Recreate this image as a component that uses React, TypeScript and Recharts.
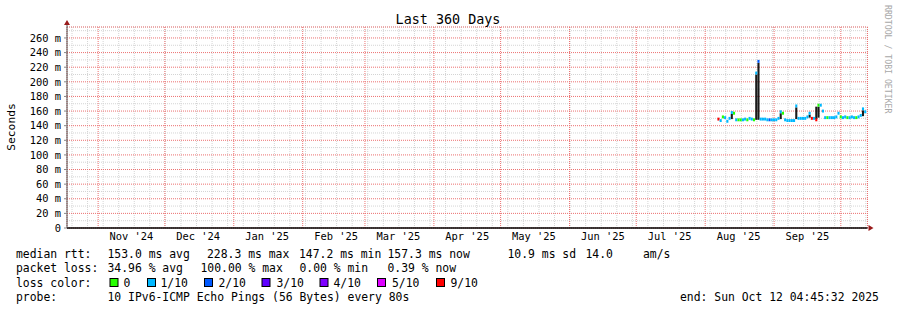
import React from "react";
import {
  ComposedChart,
  Bar,
  Cell,
  XAxis,
  YAxis,
  CartesianGrid,
  ReferenceDot,
} from "recharts";

// ---- data (x = days since 18 Oct 2024, one sample per day) ----
const DAYS = [
  293, 294, 295, 296, 297, 298, 299, 300, 301, 302, 303, 304, 305, 306, 307, 308, 309, 310,
  311, 312, 313, 314, 315, 316, 317, 318, 319, 320, 321, 322, 323, 324, 325, 326, 327, 328,
  329, 330, 331, 332, 333, 334, 335, 336, 337, 338, 339, 340, 341, 342, 343, 344, 345, 346,
  347, 348, 349, 350, 351, 352, 353, 354, 355, 356, 357, 358, 359,
];
const MEDIAN_MS = [
  149, 147, 152, 151, 146, 150, 158, 157, 148, 148, 148, 148, 149, 148, 150, 149, 148, 212,
  228, 149, 149, 149, 148, 148, 148, 148, 148, 150, 159, 157, 148, 147, 147, 147, 147, 167,
  150, 150, 150, 150, 152, 157, 150, 150, 148, 168, 168, 160, 151, 151, 151, 151, 151, 152,
  157, 152, 151, 152, 151, 151, 152, 151, 151, 152, 154, 163, 159,
];
const LOSS = [
  "9/10", "1/10", "0", "1/10", "1/10", "1/10", "1/10", "0", "1/10", "0", "0", "1/10", "1/10", "0", "1/10", "1/10", "0", "1/10",
  "2/10", "1/10", "1/10", "1/10", "1/10", "2/10", "1/10", "1/10", "1/10", "1/10", "1/10", "0", "1/10", "1/10", "1/10", "1/10", "1/10", "1/10",
  "1/10", "1/10", "1/10", "1/10", "1/10", "1/10", "9/10", "1/10", "9/10", "0", "1/10", "1/10", "1/10", "0", "1/10", "1/10", "1/10", "1/10",
  "1/10", "0", "1/10", "1/10", "0", "1/10", "1/10", "1/10", "0", "1/10", "1/10", "1/10", "1/10",
];
const SMOKE_DAYS = [299, 310, 311, 321, 328, 334, 337, 338, 358];
const SMOKE_LO = [149, 148, 148, 149, 149, 151, 149, 151, 153];
const SMOKE_HI = [156, 210, 226, 157, 165, 155, 166, 166, 161];

const LOSS_KEYS = ["0", "1/10", "2/10", "3/10", "4/10", "5/10", "9/10"];
const LOSS_COLORS = ["#26ff00", "#00b8ff", "#0059ff", "#5e00ff", "#7e00ff", "#dd00ff", "#ff0000"];

const MONTH_START_DAYS = [14, 44, 75, 106, 134, 165, 195, 226, 256, 287, 318, 348];
const MONTH_LABELS = ["Nov '24", "Dec '24", "Jan '25", "Feb '25", "Mar '25", "Apr '25", "May '25", "Jun '25", "Jul '25", "Aug '25", "Sep '25"];
const LABEL_DAYS = MONTH_LABELS.map((_, i) => MONTH_START_DAYS[i] + 15);
const Y_TICKS = [0, 20, 40, 60, 80, 100, 120, 140, 160, 180, 200, 220, 240, 260];
const Y_MINOR = [10, 30, 50, 70, 90, 110, 130, 150, 170, 190, 210, 230, 250, 270];
const WEEK_DAYS: number[] = [];
for (let d = 2.25; d < 360; d += 7) WEEK_DAYS.push(d);

const MEDIAN_ROWS = [
  { label: "median rtt:", x: 16 },
  { label: "153.0 ms avg", x: 107.5 },
  { label: "228.3 ms max", x: 207 },
  { label: "147.2 ms min", x: 299 },
  { label: "157.3 ms now", x: 387.5 },
  { label: "10.9 ms sd", x: 507.5 },
  { label: "14.0", x: 585.5 },
  { label: "am/s", x: 643 },
];
const LOSS_ROWS = [
  { label: "packet loss:", x: 16 },
  { label: "34.96 % avg", x: 107.5 },
  { label: "100.00 % max", x: 200.5 },
  { label: "0.00 % min", x: 299.5 },
  { label: "0.39 % now", x: 387.5 },
];
const SWATCH_X = [109.5, 147, 204, 261.5, 319.5, 377, 436];
const SWATCH_TEXT_X = [123.5, 160.5, 218.5, 276.5, 333.5, 392, 450.5];

// ---- build rows ----
const rows = DAYS.map((day, i) => {
  const si = SMOKE_DAYS.indexOf(day);
  return {
    day,
    band: [MEDIAN_MS[i] - 2, MEDIAN_MS[i] + 2],
    color: LOSS_COLORS[LOSS_KEYS.indexOf(LOSS[i])],
    smoke: si >= 0 ? [SMOKE_LO[si], SMOKE_HI[si]] : null,
  };
});

const MONO = "'DejaVu Sans Mono', monospace";
const GREY_GRID = "#d4d4d4";
const RED_GRID = "#ec7070";
const ARROW = "#9a1b1b";
const LEG = 11.4;
const BAR_W = 2.1;
const zeroKey = () => 0;

const UpArrow = (p: any) => (
  <g>
    <line x1={p.cx} y1={p.cy} x2={p.cx} y2={p.cy - 3} stroke="#555" strokeWidth={1} />
    <polygon points={`${p.cx - 3},${p.cy - 2} ${p.cx + 3},${p.cy - 2} ${p.cx},${p.cy - 7}`} fill={ARROW} />
  </g>
);
const RightArrow = (p: any) => (
  <polygon points={`${p.cx + 1},${p.cy - 3} ${p.cx + 1},${p.cy + 3} ${p.cx + 6},${p.cy}`} fill={ARROW} />
);

export default function App() {
  return (
    <div style={{ position: "absolute", left: 0, top: 0, width: 897, height: 310, background: "#fff" }}>
      <ComposedChart
        width={897}
        height={310}
        data={rows}
        barGap={-BAR_W}
        margin={{ top: 27, right: 29.5, bottom: 52, left: 7 }}
      >
        <XAxis xAxisId="week" type="number" dataKey="day" domain={[0, 360]} ticks={WEEK_DAYS} interval={0} hide />
        <XAxis xAxisId="month" type="number" dataKey="day" domain={[0, 360]} ticks={MONTH_START_DAYS} interval={0} hide />
        <YAxis yAxisId="minor" type="number" dataKey={zeroKey} domain={[0, 275]} allowDataOverflow ticks={Y_MINOR} interval={0} hide />
        <CartesianGrid xAxisId="week" yAxisId="minor" stroke={GREY_GRID} strokeDasharray="1 1" />
        <CartesianGrid xAxisId="month" stroke={RED_GRID} strokeDasharray="1 1" />
        <XAxis
          type="number"
          dataKey="day"
          domain={[0, 360]}
          ticks={LABEL_DAYS}
          tickFormatter={(v: number) => MONTH_LABELS[LABEL_DAYS.indexOf(v)] ?? ""}
          tickLine={false}
          tickSize={0}
          tickMargin={5}
          height={30}
          axisLine={{ stroke: "#000", strokeWidth: 1.5 }}
          tick={{ fontSize: 10.4, fontFamily: MONO, fill: "#000" }}
          interval={0}
        />
        <YAxis
          type="number"
          domain={[0, 275]}
          ticks={Y_TICKS}
          tickFormatter={(v: number) => (v === 0 ? "0" : `${v} m`)}
          width={60}
          tickSize={3}
          tickMargin={3}
          tickLine={{ stroke: "#888" }}
          axisLine={{ stroke: "#555", strokeWidth: 1 }}
          tick={{ fontSize: 10.4, fontFamily: MONO, fill: "#000" }}
          interval={0}
        />
        <Bar dataKey="smoke" fill="#1a1a1a" barSize={BAR_W} isAnimationActive={false} />
        <Bar dataKey="band" barSize={BAR_W} isAnimationActive={false}>
          {rows.map((r, i) => (
            <Cell key={"c" + i} fill={r.color} />
          ))}
        </Bar>
        <ReferenceDot x={0} y={275} r={0} shape={UpArrow} ifOverflow="visible" />
        <ReferenceDot x={360} y={0} r={0} shape={RightArrow} ifOverflow="visible" />
      </ComposedChart>
      <svg
        width={897}
        height={310}
        style={{ position: "absolute", left: 0, top: 0, pointerEvents: "none" }}
        fontFamily={MONO}
      >
        <text x={448} y={24} textAnchor="middle" fontSize={13.4} fill="#000">
          Last 360 Days
        </text>
        <text transform="translate(15,127) rotate(-90)" textAnchor="middle" fontSize={11.3} fill="#000">
          Seconds
        </text>
        <text transform="translate(885,5) rotate(90)" fontSize={8.2} fill="#a8a8a8">
          RRDTOOL / TOBI OETIKER
        </text>
        {MEDIAN_ROWS.map((t) => (
          <text key={t.label} x={t.x} y={258} fontSize={LEG} fill="#000">
            {t.label}
          </text>
        ))}
        {LOSS_ROWS.map((t) => (
          <text key={t.label} x={t.x} y={272} fontSize={LEG} fill="#000">
            {t.label}
          </text>
        ))}
        <text x={16} y={286.5} fontSize={LEG} fill="#000">
          loss color:
        </text>
        {LOSS_KEYS.map((k, i) => (
          <g key={"sw" + k}>
            <rect x={SWATCH_X[i] + 0.5} y={278.5} width={8} height={8} fill={LOSS_COLORS[i]} stroke="#000" strokeWidth={1} />
            <text x={SWATCH_TEXT_X[i]} y={286.5} fontSize={LEG} fill="#000">
              {k}
            </text>
          </g>
        ))}
        <text x={16} y={300.5} fontSize={LEG} fill="#000">
          probe:
        </text>
        <text x={107.5} y={300.5} fontSize={LEG} fill="#000">
          10 IPv6-ICMP Echo Pings (56 Bytes) every 80s
        </text>
        <text x={680} y={300.5} fontSize={LEG} fill="#000">
          end: Sun Oct 12 04:45:32 2025
        </text>
      </svg>
    </div>
  );
}
